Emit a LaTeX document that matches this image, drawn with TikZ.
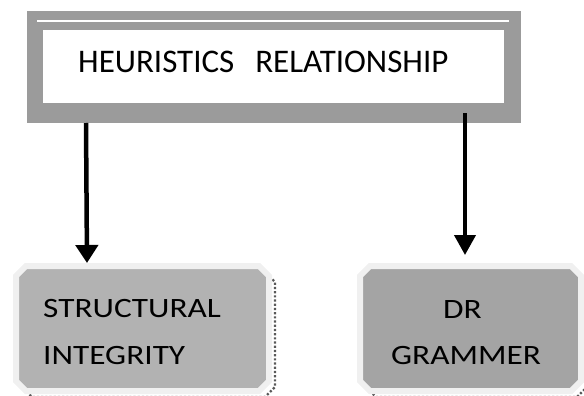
\documentclass[tikz,border=0pt]{standalone}
\usepackage{fontspec}
\setmainfont{Carlito}
\newfontfamily\widefont[FakeStretch=1.19]{Carlito}
\usetikzlibrary{arrows.meta}
\definecolor{topgray}{HTML}{9B9B9B}
\definecolor{lgray}{HTML}{B2B2B2}
\definecolor{rgray}{HTML}{A4A4A4}
\definecolor{rim}{HTML}{F0F0F0}
\newcommand{\chamferpath}[5]{% x1 y1 x2 y2 c
  (#1+#5,#2) -- (#3-#5,#2) -- (#3,#2+#5) -- (#3,#4-#5) -- (#3-#5,#4) -- (#1+#5,#4) -- (#1,#4-#5) -- (#1,#2+#5) -- cycle}
\tikzset{
  x=1pt, y=-1pt,
  bigtxt/.style={font=\fontsize{33}{33}\selectfont, inner sep=0pt, anchor=base west},
  smalltxt/.style={font=\widefont\fontsize{28}{28}\selectfont, inner sep=0pt, anchor=base west},
  cbox/.style={draw=rim, line width=6pt, line join=miter},
  shadowbox/.style={draw=black!65, line width=2.2pt, dotted},
  arrL/.style={draw=black, line width=4.5pt, -{Triangle[length=18pt,width=22pt]}},
  arrR/.style={draw=black, line width=4pt, -{Triangle[length=20pt,width=21pt]}},
}
\begin{document}
\begin{tikzpicture}
\useasboundingbox (0,0) rectangle (584,396);
% top box
\node (top) [fill=topgray, minimum width=494pt, minimum height=112pt, inner sep=0pt] at (274,67) {};
\node (topin) [fill=white, minimum width=461pt, minimum height=73pt, inner sep=0pt] at (273.5,66.5) {};
\coordinate (wl1) at (37,21);
\coordinate (wl2) at (509,21);
\draw[white, line width=1.8pt] (wl1) -- (wl2);
\node (toptxt) [bigtxt] at (78,73) {HEURISTICS\hspace{21pt}RELATIONSHIP};
% shadows
\draw[shadowbox] \chamferpath{22}{272}{275}{397}{10};
\draw[shadowbox] \chamferpath{366}{272}{587}{397}{10};
% bottom boxes
\draw[cbox, fill=lgray] \chamferpath{16}{266}{269}{391}{10};
\draw[cbox, fill=rgray] \chamferpath{360}{266}{581}{391}{10};
\coordinate (lboxtop) at (87,263);
\coordinate (rboxtop) at (465,255);
\node (l1) [smalltxt] at (43,317) {STRUCTURAL};
\node (l2) [smalltxt] at (43,364) {INTEGRITY};
\node (r1) [smalltxt, anchor=base] at (462.5,318) {DR};
\node (r2) [smalltxt, anchor=base] at (466,364) {GRAMMER};
% arrows
\coordinate (a1s) at (86,123);
\coordinate (a2s) at (465,113);
\draw[arrL] (a1s) -- (lboxtop);
\draw[arrR] (a2s) -- (rboxtop);
\end{tikzpicture}
\end{document}
